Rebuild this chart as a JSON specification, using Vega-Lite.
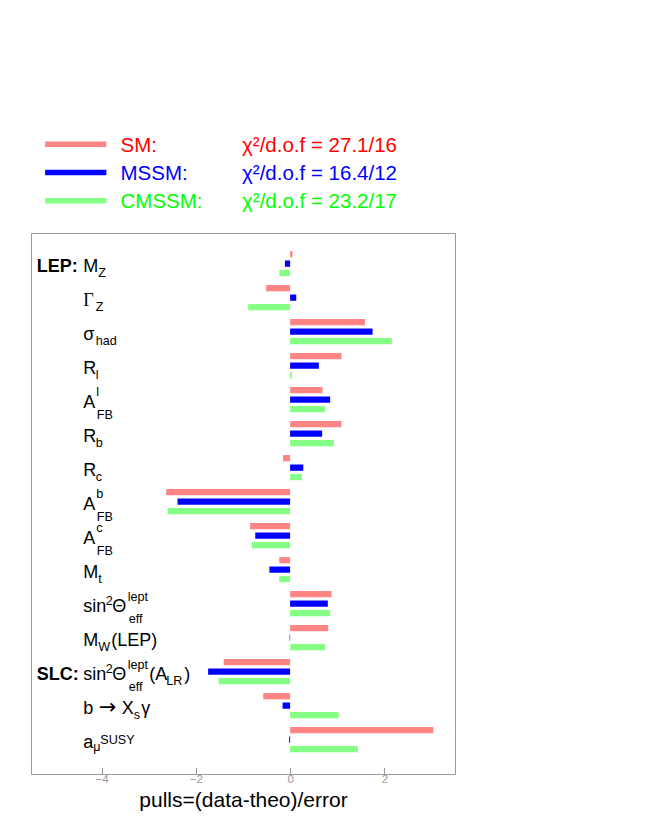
{
  "$schema": "https://vega.github.io/schema/vega-lite/v6.json",
  "padding": {"top": 130, "left": 30, "right": 5, "bottom": 2},
  "spacing": 17,
  "config": {"font": "Liberation Sans", "view": {"stroke": "#999999", "strokeWidth": 1}},
  "resolve": {"scale": {"x": "independent", "y": "independent", "color": "shared"}},
  "vconcat": [
    {
      "width": 424,
      "height": 85,
      "view": {"stroke": null},
      "data": {"values": [
        {"model": "SM", "name": "SM:", "chi": "χ²/d.o.f = 27.1/16"},
        {"model": "MSSM", "name": "MSSM:", "chi": "χ²/d.o.f = 16.4/12"},
        {"model": "CMSSM", "name": "CMSSM:", "chi": "χ²/d.o.f = 23.2/17"}
      ]},
      "encoding": {
        "y": {"field": "model", "type": "nominal", "scale": {"domain": ["SM", "MSSM", "CMSSM"], "paddingInner": 0, "paddingOuter": 0}, "axis": null}
      },
      "layer": [
        {
          "mark": {"type": "bar", "height": 5.5},
          "encoding": {
            "x": {"datum": -5.2, "type": "quantitative", "scale": {"domain": [-5.5, 3.5], "nice": false, "zero": false}, "axis": null},
            "x2": {"datum": -3.9},
            "color": {"field": "model", "type": "nominal", "scale": {"domain": ["SM", "MSSM", "CMSSM"], "range": ["#ff8585", "#0000ff", "#85ff85"]}, "legend": null}
          }
        },
        {
          "mark": {"type": "text", "align": "left", "baseline": "alphabetic", "dy": 7.5, "fontSize": 20.5},
          "encoding": {
            "x": {"datum": -3.6, "type": "quantitative"},
            "text": {"field": "name"},
            "fill": {"field": "model", "type": "nominal", "scale": {"domain": ["SM", "MSSM", "CMSSM"], "range": ["#ff0000", "#0000ff", "#00ff00"]}, "legend": null}
          }
        },
        {
          "mark": {"type": "text", "align": "left", "baseline": "alphabetic", "dy": 7.5, "fontSize": 20.5},
          "encoding": {
            "x": {"datum": -1.02, "type": "quantitative"},
            "text": {"field": "chi"},
            "fill": {"field": "model", "type": "nominal", "legend": null}
          }
        }
      ]
    },
    {
      "width": 424,
      "height": 541,
      "resolve": {"axis": {"x": "independent"}},
      "encoding": {
        "y": {"field": "param", "type": "nominal", "axis": null,
          "scale": {"domain": ["MZ", "GZ", "sigma_had", "Rl", "AFBl", "Rb", "Rc", "AFBb", "AFBc", "Mt", "sin2theta", "MW", "sin2theta_ALR", "bsg", "amu"], "paddingInner": 0, "paddingOuter": 0.456, "align": 0.44}}
      },
      "layer": [
        {
          "data": {"values": [
            {"param": "MZ", "model": "SM", "pull": 0.05}, {"param": "MZ", "model": "MSSM", "pull": -0.11}, {"param": "MZ", "model": "CMSSM", "pull": -0.23},
            {"param": "GZ", "model": "SM", "pull": -0.51}, {"param": "GZ", "model": "MSSM", "pull": 0.13}, {"param": "GZ", "model": "CMSSM", "pull": -0.89},
            {"param": "sigma_had", "model": "SM", "pull": 1.59}, {"param": "sigma_had", "model": "MSSM", "pull": 1.75}, {"param": "sigma_had", "model": "CMSSM", "pull": 2.16},
            {"param": "Rl", "model": "SM", "pull": 1.09}, {"param": "Rl", "model": "MSSM", "pull": 0.61}, {"param": "Rl", "model": "CMSSM", "pull": 0.04},
            {"param": "AFBl", "model": "SM", "pull": 0.69}, {"param": "AFBl", "model": "MSSM", "pull": 0.85}, {"param": "AFBl", "model": "CMSSM", "pull": 0.74},
            {"param": "Rb", "model": "SM", "pull": 1.09}, {"param": "Rb", "model": "MSSM", "pull": 0.68}, {"param": "Rb", "model": "CMSSM", "pull": 0.93},
            {"param": "Rc", "model": "SM", "pull": -0.15}, {"param": "Rc", "model": "MSSM", "pull": 0.28}, {"param": "Rc", "model": "CMSSM", "pull": 0.25},
            {"param": "AFBb", "model": "SM", "pull": -2.63}, {"param": "AFBb", "model": "MSSM", "pull": -2.39}, {"param": "AFBb", "model": "CMSSM", "pull": -2.6},
            {"param": "AFBc", "model": "SM", "pull": -0.85}, {"param": "AFBc", "model": "MSSM", "pull": -0.74}, {"param": "AFBc", "model": "CMSSM", "pull": -0.81},
            {"param": "Mt", "model": "SM", "pull": -0.23}, {"param": "Mt", "model": "MSSM", "pull": -0.44}, {"param": "Mt", "model": "CMSSM", "pull": -0.23},
            {"param": "sin2theta", "model": "SM", "pull": 0.88}, {"param": "sin2theta", "model": "MSSM", "pull": 0.8}, {"param": "sin2theta", "model": "CMSSM", "pull": 0.85},
            {"param": "MW", "model": "SM", "pull": 0.81}, {"param": "MW", "model": "MSSM", "pull": -0.01}, {"param": "MW", "model": "CMSSM", "pull": 0.74},
            {"param": "sin2theta_ALR", "model": "SM", "pull": -1.41}, {"param": "sin2theta_ALR", "model": "MSSM", "pull": -1.74}, {"param": "sin2theta_ALR", "model": "CMSSM", "pull": -1.52},
            {"param": "bsg", "model": "SM", "pull": -0.57}, {"param": "bsg", "model": "MSSM", "pull": -0.16}, {"param": "bsg", "model": "CMSSM", "pull": 1.03},
            {"param": "amu", "model": "SM", "pull": 3.04}, {"param": "amu", "model": "MSSM", "pull": -0.02}, {"param": "amu", "model": "CMSSM", "pull": 1.44}
          ]},
          "mark": {"type": "bar"},
          "encoding": {
            "x": {"field": "pull", "type": "quantitative", "scale": {"domain": [-5.5, 3.5], "nice": false, "zero": false},
              "axis": {"values": [-4, -2, 0, 2], "tickSize": -6.5, "tickColor": "#999999", "domain": false, "grid": false, "labelColor": "#999999", "labelFontSize": 11.5, "labelPadding": 6, "title": "pulls=(data-theo)/error", "titleFontSize": 21, "titleFontWeight": "normal", "titleColor": "#000000", "titlePadding": 4}},
            "x2": {"datum": 0},
            "yOffset": {"field": "model", "type": "nominal", "scale": {"domain": ["SM", "MSSM", "CMSSM"], "paddingInner": 0.333, "paddingOuter": 0.466}},
            "color": {"field": "model", "type": "nominal", "legend": null}
          }
        },
        {
          "data": {"values": [
            {"param": "MZ", "role": "main", "text": "M"}, {"param": "sigma_had", "role": "main", "text": "σ"}, {"param": "Rl", "role": "main", "text": "R"},
            {"param": "AFBl", "role": "main", "text": "A"}, {"param": "Rb", "role": "main", "text": "R"}, {"param": "Rc", "role": "main", "text": "R"},
            {"param": "AFBb", "role": "main", "text": "A"}, {"param": "AFBc", "role": "main", "text": "A"}, {"param": "Mt", "role": "main", "text": "M"},
            {"param": "sin2theta", "role": "main", "text": "sin"}, {"param": "MW", "role": "main", "text": "M"}, {"param": "sin2theta_ALR", "role": "main", "text": "sin"},
            {"param": "bsg", "role": "main", "text": "b"}, {"param": "amu", "role": "main", "text": "a"},
            {"param": "GZ", "role": "serif", "text": "Γ"},
            {"param": "MZ", "role": "group", "text": "LEP:"}, {"param": "sin2theta_ALR", "role": "group", "text": "SLC:"},
            {"param": "GZ", "role": "sub", "text": "Z"}, {"param": "sigma_had", "role": "sub", "text": "had"}, {"param": "Rl", "role": "sub", "text": "l"},
            {"param": "Rb", "role": "sub", "text": "b"}, {"param": "Rc", "role": "sub", "text": "c"},
            {"param": "MZ", "role": "subM", "text": "Z"}, {"param": "Mt", "role": "subM", "text": "t"}, {"param": "MW", "role": "subM", "text": "W"},
            {"param": "AFBl", "role": "supA", "text": "l"}, {"param": "AFBb", "role": "supA", "text": "b"}, {"param": "AFBc", "role": "supA", "text": "c"},
            {"param": "AFBl", "role": "subA", "text": "FB"}, {"param": "AFBb", "role": "subA", "text": "FB"}, {"param": "AFBc", "role": "subA", "text": "FB"},
            {"param": "sin2theta", "role": "sq", "text": "2"}, {"param": "sin2theta_ALR", "role": "sq", "text": "2"},
            {"param": "sin2theta", "role": "theta", "text": "Θ"}, {"param": "sin2theta_ALR", "role": "theta", "text": "Θ"},
            {"param": "sin2theta", "role": "lept", "text": "lept"}, {"param": "sin2theta_ALR", "role": "lept", "text": "lept"},
            {"param": "sin2theta", "role": "eff", "text": "eff"}, {"param": "sin2theta_ALR", "role": "eff", "text": "eff"},
            {"param": "MW", "role": "lep", "text": "(LEP)"},
            {"param": "sin2theta_ALR", "role": "openA", "text": "(A"}, {"param": "sin2theta_ALR", "role": "subLR", "text": "LR"}, {"param": "sin2theta_ALR", "role": "close", "text": ")"},
            {"param": "bsg", "role": "arrow", "text": "→"}, {"param": "bsg", "role": "bigX", "text": "X"},
            {"param": "bsg", "role": "subS", "text": "s"}, {"param": "bsg", "role": "gamma", "text": "γ"},
            {"param": "amu", "role": "subMu", "text": "μ"}, {"param": "amu", "role": "supSusy", "text": "SUSY"}
          ]},
          "encoding": {
            "x": {"datum": -4.39, "type": "quantitative", "axis": null},
            "text": {"field": "text"}
          },
          "layer": [
            {"transform": [{"filter": "datum.role === 'main'"}], "mark": {"type": "text", "align": "left", "baseline": "alphabetic", "fontSize": 18, "dy": 8},
              "encoding": {"x": {"datum": -4.39, "type": "quantitative", "axis": {"values": [-5, -4.5, -4, -3.5, -3, -2.5, -2, -1.5, -1, -0.5, 0, 0.5, 1, 1.5, 2, 2.5, 3], "tickSize": -3.5, "tickColor": "#999999", "labels": false, "domain": false, "grid": false, "title": null}}}},
            {"transform": [{"filter": "datum.role === 'serif'"}], "mark": {"type": "text", "align": "left", "baseline": "alphabetic", "fontSize": 18, "font": "Liberation Serif", "dy": 8}},
            {"transform": [{"filter": "datum.role === 'group'"}], "mark": {"type": "text", "align": "left", "baseline": "alphabetic", "fontSize": 18, "fontWeight": "bold", "dx": -46.5, "dy": 8}},
            {"transform": [{"filter": "datum.role === 'sub'"}], "mark": {"type": "text", "align": "left", "baseline": "alphabetic", "fontSize": 12.6, "dx": 12.5, "dy": 13}},
            {"transform": [{"filter": "datum.role === 'subM'"}], "mark": {"type": "text", "align": "left", "baseline": "alphabetic", "fontSize": 12.6, "dx": 15, "dy": 13}},
            {"transform": [{"filter": "datum.role === 'supA'"}], "mark": {"type": "text", "align": "left", "baseline": "alphabetic", "fontSize": 12.6, "dx": 13, "dy": -3.5}},
            {"transform": [{"filter": "datum.role === 'subA'"}], "mark": {"type": "text", "align": "left", "baseline": "alphabetic", "fontSize": 12.6, "dx": 13.5, "dy": 19.5}},
            {"transform": [{"filter": "datum.role === 'sq'"}], "mark": {"type": "text", "align": "left", "baseline": "alphabetic", "fontSize": 12.6, "dx": 22.5, "dy": 1.5}},
            {"transform": [{"filter": "datum.role === 'theta'"}], "mark": {"type": "text", "align": "left", "baseline": "alphabetic", "fontSize": 18, "dx": 29, "dy": 8}},
            {"transform": [{"filter": "datum.role === 'lept'"}], "mark": {"type": "text", "align": "left", "baseline": "alphabetic", "fontSize": 12.6, "dx": 44.5, "dy": -3}},
            {"transform": [{"filter": "datum.role === 'eff'"}], "mark": {"type": "text", "align": "left", "baseline": "alphabetic", "fontSize": 12.6, "dx": 45.5, "dy": 19.5}},
            {"transform": [{"filter": "datum.role === 'lep'"}], "mark": {"type": "text", "align": "left", "baseline": "alphabetic", "fontSize": 18, "dx": 28, "dy": 8}},
            {"transform": [{"filter": "datum.role === 'openA'"}], "mark": {"type": "text", "align": "left", "baseline": "alphabetic", "fontSize": 18, "dx": 66, "dy": 8}},
            {"transform": [{"filter": "datum.role === 'subLR'"}], "mark": {"type": "text", "align": "left", "baseline": "alphabetic", "fontSize": 12.6, "dx": 83, "dy": 13}},
            {"transform": [{"filter": "datum.role === 'close'"}], "mark": {"type": "text", "align": "left", "baseline": "alphabetic", "fontSize": 18, "dx": 101, "dy": 8}},
            {"transform": [{"filter": "datum.role === 'arrow'"}], "mark": {"type": "text", "align": "left", "baseline": "alphabetic", "fontSize": 21, "font": "DejaVu Sans", "dx": 15.5, "dy": 8}},
            {"transform": [{"filter": "datum.role === 'bigX'"}], "mark": {"type": "text", "align": "left", "baseline": "alphabetic", "fontSize": 18, "dx": 38.5, "dy": 8}},
            {"transform": [{"filter": "datum.role === 'subS'"}], "mark": {"type": "text", "align": "left", "baseline": "alphabetic", "fontSize": 12.6, "dx": 50.5, "dy": 13}},
            {"transform": [{"filter": "datum.role === 'gamma'"}], "mark": {"type": "text", "align": "left", "baseline": "alphabetic", "fontSize": 18, "dx": 58, "dy": 8}},
            {"transform": [{"filter": "datum.role === 'subMu'"}], "mark": {"type": "text", "align": "left", "baseline": "alphabetic", "fontSize": 12.6, "dx": 10, "dy": 11.5}},
            {"transform": [{"filter": "datum.role === 'supSusy'"}], "mark": {"type": "text", "align": "left", "baseline": "alphabetic", "fontSize": 12.6, "dx": 17, "dy": 4}}
          ]
        }
      ]
    }
  ]
}
